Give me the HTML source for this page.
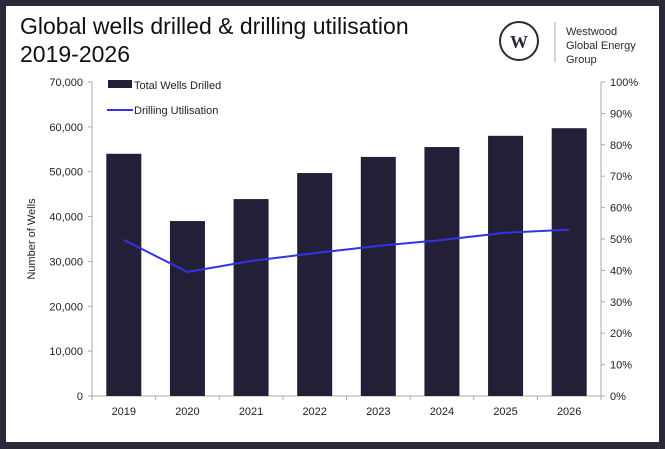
<!DOCTYPE html>
<html><head><meta charset="utf-8">
<style>
html,body{margin:0;padding:0;}
body{width:665px;height:449px;background:#2b2939;position:relative;overflow:hidden;font-family:"Liberation Sans",sans-serif;}
#card{position:absolute;left:6px;top:6px;width:653px;height:436px;background:#fff;}
</style></head>
<body>
<div id="card"></div>
<svg id="chart" width="665" height="449" style="position:absolute;left:0;top:0">
<text x="20" y="34" font-size="23" fill="#111">Global wells drilled &amp; drilling utilisation</text>
<text x="20" y="62" font-size="23" fill="#111">2019-2026</text>
<g>
<circle cx="519" cy="41" r="19" fill="none" stroke="#2b2939" stroke-width="2"/>
<text x="519" y="48" font-size="18" font-weight="bold" font-family="Liberation Serif,serif" text-anchor="middle" fill="#2b2939">W</text>
<line x1="555" y1="22" x2="555" y2="62" stroke="#aaa" stroke-width="1"/>
<text x="566" y="35" font-size="11" fill="#2b2939">Westwood</text>
<text x="566" y="49" font-size="11" fill="#2b2939">Global Energy</text>
<text x="566" y="63" font-size="11" fill="#2b2939">Group</text>
</g>
<g id="axes"></g>
<g id="bars"></g>
<g id="line"></g>
<g>
<rect x="108" y="80" width="24" height="8" fill="#221f36"/>
<text x="134" y="89" font-size="11" fill="#222">Total Wells Drilled</text>
<line x1="107" y1="110" x2="133" y2="110" stroke="#3333e6" stroke-width="2"/>
<text x="134" y="114" font-size="11" fill="#222">Drilling Utilisation</text>
</g>
<text transform="translate(35,239) rotate(-90)" font-size="11" text-anchor="middle" fill="#222">Number of Wells</text>
</svg>
<script>
const categories=["2019","2020","2021","2022","2023","2024","2025","2026"];
const wells=[54000,39000,43900,49700,53300,55500,58000,59700];
const utilisation=[49.7,39.5,43,45.5,47.8,49.7,52,53];
const leftTicks=[0,10000,20000,30000,40000,50000,60000,70000];
const rightTicks=[0,10,20,30,40,50,60,70,80,90,100];
const NS="http://www.w3.org/2000/svg";
const X0=92,X1=601,Y0=396,Y1=82;
const band=(X1-X0)/categories.length;
const xc=i=>X0+band*(i+0.5);
const yL=v=>Y0-(v/70000)*(Y0-Y1);
const yR=v=>Y0-(v/100)*(Y0-Y1);
function mk(tag,attrs,parent){const e=document.createElementNS(NS,tag);for(const k in attrs)e.setAttribute(k,attrs[k]);parent.appendChild(e);return e;}
const axes=document.getElementById('axes');
let a=mk('line',{x1:X0,y1:Y1,x2:X0,y2:Y0,stroke:'#aaa'},axes);


a=mk('line',{x1:X1,y1:Y1,x2:X1,y2:Y0,stroke:'#aaa'},axes);


a=mk('line',{x1:X0-4,y1:Y0,x2:X1+4,y2:Y0,stroke:'#aaa'},axes);


leftTicks.forEach(v=>{const y=yL(v);mk('line',{x1:X0-4,y1:y,x2:X0,y2:y,stroke:'#aaa'},axes);
const t=mk('text',{x:X0-9,y:y+4,'font-size':11,'text-anchor':'end',fill:'#222'},axes);t.textContent=v.toLocaleString('en-US');

});
rightTicks.forEach(v=>{const y=yR(v);mk('line',{x1:X1,y1:y,x2:X1+4,y2:y,stroke:'#aaa'},axes);
const t=mk('text',{x:X1+9,y:y+4,'font-size':11,fill:'#222'},axes);t.textContent=v+'%';

});
for(let i=0;i<=categories.length;i++){mk('line',{x1:X0+band*i,y1:Y0,x2:X0+band*i,y2:Y0+4,stroke:'#aaa'},axes);}
const bars=document.getElementById('bars');
categories.forEach((c,i)=>{const bw=35;
const r=mk('rect',{x:xc(i)-bw/2,y:yL(wells[i]),width:bw,height:Y0-yL(wells[i]),fill:'#221f36'},bars);


const t=mk('text',{x:xc(i),y:Y0+19,'font-size':11,'text-anchor':'middle',fill:'#222'},axes);t.textContent=c;

});
const pl=mk('polyline',{points:utilisation.map((v,i)=>xc(i)+','+yR(v)).join(' '),fill:'none',stroke:'#3333e6','stroke-width':2},document.getElementById('line'));


</script>
</body></html>
